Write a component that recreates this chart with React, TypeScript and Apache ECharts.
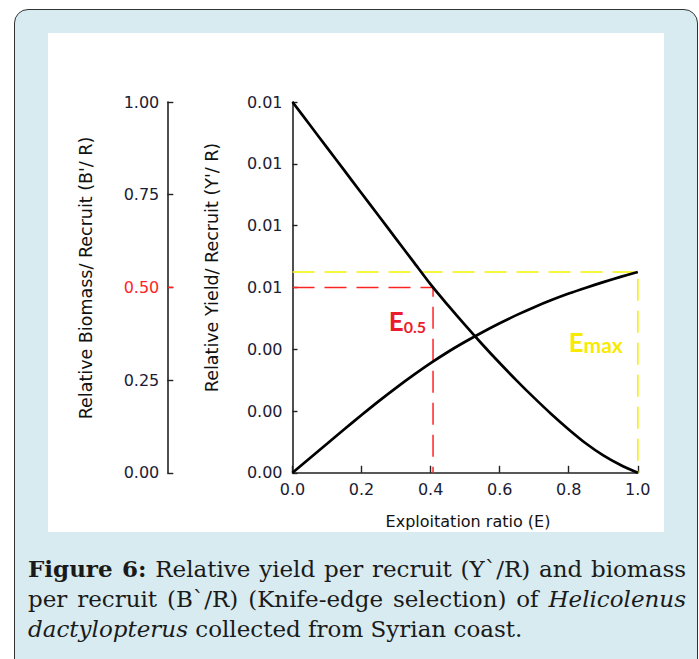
import React, { useEffect, useRef } from "react";
import * as echarts from "echarts";

// Exploitation ratio (E) sampled along both curves
const E_VALUES = [0, 0.05, 0.1, 0.15, 0.2, 0.25, 0.3, 0.35, 0.4, 0.45, 0.5, 0.55, 0.6, 0.65, 0.7, 0.75, 0.8, 0.85, 0.9, 0.95, 1.0];
// Relative biomass per recruit (B'/R), left outer axis
const BR_VALUES = [1.0, 0.9385, 0.877, 0.8155, 0.754, 0.6925, 0.631, 0.5695, 0.508, 0.452, 0.398, 0.346, 0.296, 0.248, 0.202, 0.158, 0.117, 0.079, 0.047, 0.021, 0.0];
// Relative yield per recruit (Y'/R), inner axis
const YR_VALUES = [0, 0.00047, 0.00094, 0.00141, 0.00187, 0.00232, 0.00275, 0.00316, 0.00355, 0.00391, 0.00424, 0.00455, 0.00484, 0.00511, 0.00536, 0.00559, 0.0058, 0.00599, 0.00617, 0.00634, 0.0065];

// reference points
const E05 = 0.407;
const B05 = 0.5;
const EMAX = 1.0;
const YMAX = 0.0065;

// tick labels
const X_TICK_LABELS = ["0.0", "0.2", "0.4", "0.6", "0.8", "1.0"];
const YIELD_TICK_LABELS = ["0.00", "0.00", "0.00", "0.01", "0.01", "0.01", "0.01"];
const BIOMASS_TICK_LABELS = ["0.00", "0.25", "0.50", "0.75", "1.00"];

const AXIS_COLOR = "#222";
const LABEL_COLOR = "#1c1c34";
const RED = "#ff2424";
const RED_TEXT = "#ec1c2c";
const YELLOW = "#f6f200";
const YELLOW_TEXT = "#f8ea00";
const SANS = "DejaVu Sans";

export default function App() {
  const ref = useRef<HTMLDivElement>(null);

  useEffect(() => {
    const chart = echarts.init(ref.current as HTMLDivElement, null, { renderer: "svg" });
    const gridLeft = 292.5;
    const bioOffset = 125.2;
    chart.setOption({
      animation: false,
      backgroundColor: "transparent",
      grid: { left: gridLeft, top: 102, width: 345.3, height: 370.8, containLabel: false },
      xAxis: {
        type: "value",
        min: 0,
        max: 1,
        interval: 0.2,
        axisLine: { show: true, onZero: false, lineStyle: { color: AXIS_COLOR, width: 1.6 } },
        axisTick: { show: true, inside: true, length: 7, lineStyle: { color: AXIS_COLOR, width: 1.4 } },
        axisLabel: {
          margin: 9,
          fontFamily: SANS,
          fontSize: 16,
          color: LABEL_COLOR,
          formatter: (v: number, i: number) => X_TICK_LABELS[i] ?? v.toFixed(1),
        },
        splitLine: { show: false },
      },
      yAxis: [
        {
          type: "value",
          position: "left",
          min: 0,
          max: 0.012,
          interval: 0.002,
          axisLine: { show: true, onZero: false, lineStyle: { color: AXIS_COLOR, width: 1.6 } },
          axisTick: { show: true, inside: true, length: 5, lineStyle: { color: AXIS_COLOR, width: 1.4 } },
          axisLabel: {
            margin: 10,
            fontFamily: SANS,
            fontSize: 16,
            color: LABEL_COLOR,
            formatter: (v: number, i: number) => YIELD_TICK_LABELS[i] ?? v.toFixed(2),
          },
          splitLine: { show: false },
        },
        {
          type: "value",
          position: "left",
          offset: bioOffset,
          min: 0,
          max: 1,
          interval: 0.25,
          axisLine: { show: true, onZero: false, lineStyle: { color: AXIS_COLOR, width: 1.6 } },
          axisTick: { show: true, inside: true, length: 6, lineStyle: { color: AXIS_COLOR, width: 1.4 } },
          axisLabel: {
            margin: 8,
            fontFamily: SANS,
            fontSize: 16,
            color: (v: any, i: number) => (i === 2 ? RED : LABEL_COLOR),
            formatter: (v: number, i: number) => BIOMASS_TICK_LABELS[i] ?? v.toFixed(2),
          },
          splitLine: { show: false },
        },
      ],
      series: [
        {
          name: "E0.5",
          type: "line",
          yAxisIndex: 1,
          data: [[0, B05], [E05, B05], [E05, 0]],
          showSymbol: false,
          silent: true,
          z: 1,
          lineStyle: { color: RED, width: 1.5, type: [22, 10] },
        },
        {
          name: "Emax",
          type: "line",
          yAxisIndex: 0,
          data: [[0, YMAX], [EMAX, YMAX], [EMAX, 0]],
          showSymbol: false,
          silent: true,
          z: 1,
          lineStyle: { color: YELLOW, width: 1.6, type: [22, 10] },
        },
        {
          name: "B'/R",
          type: "line",
          yAxisIndex: 1,
          data: E_VALUES.map((e, i) => [e, BR_VALUES[i]]),
          showSymbol: false,
          smooth: 0.3,
          z: 3,
          lineStyle: { color: "#000", width: 2.7 },
        },
        {
          name: "Y'/R",
          type: "line",
          yAxisIndex: 0,
          data: E_VALUES.map((e, i) => [e, YR_VALUES[i]]),
          showSymbol: false,
          smooth: 0.3,
          z: 3,
          lineStyle: { color: "#000", width: 2.7 },
        },
      ],
    });

    const xPx = (v: number) => chart.convertToPixel({ xAxisIndex: 0 }, v) as number;
    const yPx = (v: number) => chart.convertToPixel({ yAxisIndex: 0 }, v) as number;
    const bPx = (v: number) => chart.convertToPixel({ yAxisIndex: 1 }, v) as number;
    const bioAxisX = gridLeft - bioOffset;

    chart.setOption({
      graphic: [
        {
          type: "line",
          shape: { x1: bioAxisX, y1: bPx(B05), x2: bioAxisX + 6, y2: bPx(B05) },
          style: { stroke: RED, lineWidth: 1.4 },
          z: 10,
        },
        {
          type: "text",
          x: 86,
          y: 278,
          rotation: Math.PI / 2,
          style: {
            text: "Relative Biomass/ Recruit (B'/ R)",
            fontFamily: SANS,
            fontSize: 17.5,
            fill: "#111",
            align: "center",
            verticalAlign: "middle",
          },
        },
        {
          type: "text",
          x: 211.5,
          y: 267.5,
          rotation: Math.PI / 2,
          style: {
            text: "Relative Yield/ Recruit (Y'/ R)",
            fontFamily: SANS,
            fontSize: 17.5,
            fill: "#111",
            align: "center",
            verticalAlign: "middle",
          },
        },
        {
          type: "text",
          x: 468,
          y: 521.5,
          style: {
            text: "Exploitation ratio (E)",
            fontFamily: SANS,
            fontSize: 16,
            fill: "#111",
            align: "center",
            verticalAlign: "middle",
          },
        },
        {
          type: "text",
          x: xPx(E05) - 7,
          y: bPx(B05) + 47,
          z: 10,
          style: {
            text: "{e|E}{s|0.5}",
            align: "right",
            verticalAlign: "bottom",
            rich: {
              e: { fontFamily: "Lato", fontWeight: "bold", fontSize: 26, fill: RED_TEXT, verticalAlign: "bottom", lineHeight: 28 },
              s: { fontFamily: "Lato", fontWeight: "bold", fontSize: 16, fill: RED_TEXT, verticalAlign: "bottom", lineHeight: 28 },
            },
          },
        },
        {
          type: "text",
          x: xPx(EMAX) - 15,
          y: yPx(YMAX) + 83,
          z: 10,
          style: {
            text: "{e|E}{s|max}",
            align: "right",
            verticalAlign: "bottom",
            rich: {
              e: { fontFamily: "Lato", fontWeight: "bold", fontSize: 26, fill: YELLOW_TEXT, verticalAlign: "bottom", lineHeight: 28 },
              s: { fontFamily: "Lato", fontWeight: "bold", fontSize: 21, fill: YELLOW_TEXT, verticalAlign: "bottom", lineHeight: 28 },
            },
          },
        },
      ],
    });

    return () => chart.dispose();
  }, []);

  return (
    <div style={{ position: "absolute", left: 0, top: 0, width: 699, height: 659, overflow: "hidden", background: "#fff" }}>
      <div
        style={{
          position: "absolute",
          left: 14,
          top: 9.3,
          width: 683.5,
          height: 720,
          boxSizing: "border-box",
          border: "1.5px solid #333",
          borderRadius: 14,
          background: "#d7ebf0",
        }}
      />
      <div style={{ position: "absolute", left: 48, top: 33.3, width: 615.5, height: 499, background: "#fff" }} />
      <div ref={ref} style={{ position: "absolute", left: 0, top: 0, width: 699, height: 659 }} />
      <div
        style={{
          position: "absolute",
          left: 28,
          top: 554,
          width: 658,
          fontFamily: "'DejaVu Serif', serif",
          fontSize: 23,
          lineHeight: "30px",
          color: "#1a1a1a",
        }}
      >
        <div style={{ textAlign: "justify", textAlignLast: "justify" }}>
          <b>Figure 6:</b> Relative yield per recruit (Y`/R) and biomass
        </div>
        <div style={{ textAlign: "justify", textAlignLast: "justify" }}>
          per recruit (B`/R) (Knife-edge selection) of <i>Helicolenus</i>
        </div>
        <div style={{ textAlign: "left" }}>
          <i>dactylopterus</i> collected from Syrian coast.
        </div>
      </div>
    </div>
  );
}
